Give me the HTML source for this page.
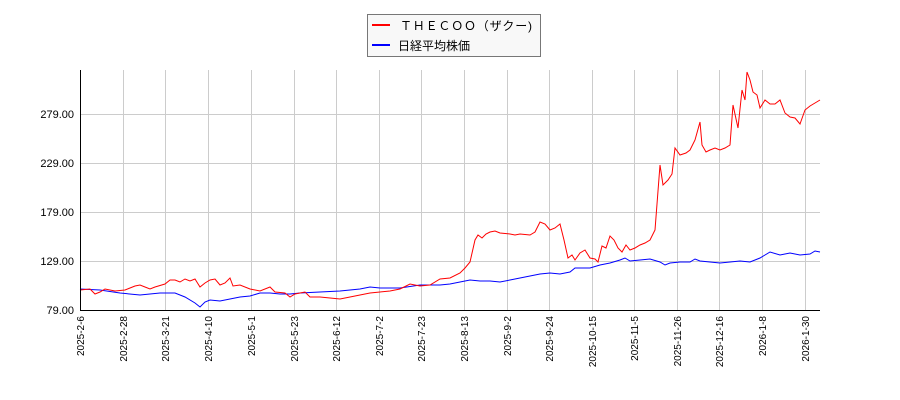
<!DOCTYPE html>
<html><head><meta charset="utf-8"><style>body{margin:0;background:#fff}svg{display:block}</style></head><body>
<svg width="900" height="400" xmlns="http://www.w3.org/2000/svg" font-family="Liberation Sans, Noto Sans CJK JP, sans-serif">
<rect x="367.5" y="14.5" width="173" height="42" fill="#f8f8f8" stroke="#777"/>
<line x1="372" y1="25" x2="390" y2="25" stroke="red" stroke-width="2"/>
<line x1="372" y1="45" x2="390" y2="45" stroke="blue" stroke-width="2"/>
<text x="400" y="30" font-size="12" textLength="132" lengthAdjust="spacing">ＴＨＥＣＯＯ（ザクー)</text>
<text x="398" y="50" font-size="12">日経平均株価</text>
<g stroke="#ccc" stroke-width="1">
<line x1="80" y1="114.5" x2="820" y2="114.5"/><line x1="80" y1="163.5" x2="820" y2="163.5"/><line x1="80" y1="212.5" x2="820" y2="212.5"/><line x1="80" y1="261.5" x2="820" y2="261.5"/>
<line x1="123.5" y1="70" x2="123.5" y2="310"/><line x1="165.5" y1="70" x2="165.5" y2="310"/><line x1="208.5" y1="70" x2="208.5" y2="310"/><line x1="251.5" y1="70" x2="251.5" y2="310"/><line x1="294.5" y1="70" x2="294.5" y2="310"/><line x1="336.5" y1="70" x2="336.5" y2="310"/><line x1="379.5" y1="70" x2="379.5" y2="310"/><line x1="421.5" y1="70" x2="421.5" y2="310"/><line x1="464.5" y1="70" x2="464.5" y2="310"/><line x1="507.5" y1="70" x2="507.5" y2="310"/><line x1="549.5" y1="70" x2="549.5" y2="310"/><line x1="592.5" y1="70" x2="592.5" y2="310"/><line x1="634.5" y1="70" x2="634.5" y2="310"/><line x1="677.5" y1="70" x2="677.5" y2="310"/><line x1="719.5" y1="70" x2="719.5" y2="310"/><line x1="762.5" y1="70" x2="762.5" y2="310"/><line x1="805.5" y1="70" x2="805.5" y2="310"/>
</g>
<polyline fill="none" stroke="blue" stroke-width="1" points="80,289 100,290 120,293 140,295 160,293 175,293 185,297 195,303 200,307 205,302 210,300 220,301 230,299 240,297 250,296 260,293 270,293 280,294 290,294 300,293 320,292 340,291 360,289 370,287 380,288 400,288 420,285 440,285 450,284 460,282 470,280 480,281 490,281 500,282 510,280 520,278 530,276 540,274 550,273 560,274 570,272 575,268 580,268 590,268 600,265 610,263 620,260 625,258 630,261 640,260 650,259 660,262 665,265 670,263 680,262 690,262 695,259 700,261 710,262 720,263 730,262 740,261 750,262 760,258 765,255 770,252 780,255 790,253 800,255 810,254 815,251 820,252"/>
<polyline fill="none" stroke="red" stroke-width="1" points="80,290 90,289 95,294 100,292 105,289 115,291 125,290 130,288 135,286 140,285 145,287 150,289 155,287 165,284 170,280 175,280 180,282 185,279 190,281 195,279 200,287 205,283 210,280 215,279 220,285 225,283 230,278 233,286 240,285 250,289 260,291 270,287 275,292 285,293 290,297 295,294 300,293 305,292 310,297 320,297 330,298 340,299 345,298 350,297 360,295 370,293 380,292 390,291 400,289 410,284 420,286 430,285 440,279 450,278 460,273 465,268 470,262 475,240 478,235 482,238 486,234 490,232 495,231 500,233 510,234 515,235 520,234 530,235 535,232 540,222 545,224 550,230 555,228 560,224 564,240 568,258 572,255 575,260 580,253 585,250 590,258 595,259 598,262 602,246 606,248 610,236 614,240 618,248 622,252 626,245 630,250 635,248 640,245 645,243 650,240 655,230 660,165 663,185 668,180 672,174 675,148 680,155 686,153 690,150 695,140 700,122 702,145 706,152 710,150 715,148 720,150 725,148 730,145 733,105 738,128 742,90 745,100 747,72 750,80 753,92 757,95 760,108 765,100 770,104 775,104 780,100 785,113 790,117 795,118 800,124 805,110 810,106 815,103 820,100"/>
<g stroke="#000" fill="none"><line x1="80.5" y1="70" x2="80.5" y2="310"/><line x1="80" y1="310.5" x2="820" y2="310.5"/></g>
<g font-size="11" text-anchor="end" fill="#000">
<text x="74" y="118">279.00</text><text x="74" y="167">229.00</text><text x="74" y="216">179.00</text><text x="74" y="265">129.00</text><text x="74" y="314">79.00</text>
</g>
<g font-size="10" text-anchor="end" fill="#000">
<text transform="translate(84,316) rotate(-90)">2025-2-6</text>
<text transform="translate(127,316) rotate(-90)">2025-2-28</text>
<text transform="translate(169,316) rotate(-90)">2025-3-21</text>
<text transform="translate(212,316) rotate(-90)">2025-4-10</text>
<text transform="translate(255,316) rotate(-90)">2025-5-1</text>
<text transform="translate(298,316) rotate(-90)">2025-5-23</text>
<text transform="translate(340,316) rotate(-90)">2025-6-12</text>
<text transform="translate(383,316) rotate(-90)">2025-7-2</text>
<text transform="translate(425,316) rotate(-90)">2025-7-23</text>
<text transform="translate(468,316) rotate(-90)">2025-8-13</text>
<text transform="translate(511,316) rotate(-90)">2025-9-2</text>
<text transform="translate(553,316) rotate(-90)">2025-9-24</text>
<text transform="translate(596,316) rotate(-90)">2025-10-15</text>
<text transform="translate(638,316) rotate(-90)">2025-11-5</text>
<text transform="translate(681,316) rotate(-90)">2025-11-26</text>
<text transform="translate(723,316) rotate(-90)">2025-12-16</text>
<text transform="translate(766,316) rotate(-90)">2026-1-8</text>
<text transform="translate(809,316) rotate(-90)">2026-1-30</text>
</g>
</svg>
</body></html>
